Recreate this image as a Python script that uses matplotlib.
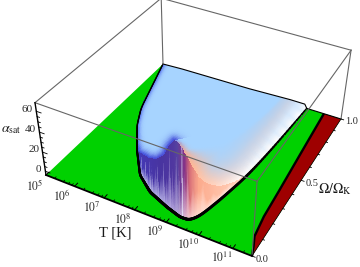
import numpy as np
import matplotlib
matplotlib.use("Agg")
import matplotlib.pyplot as plt
from matplotlib.collections import LineCollection
from matplotlib.patches import Polygon

plt.rcParams['font.family'] = ['Liberation Serif', 'DejaVu Serif']
plt.rcParams['mathtext.fontset'] = 'stix'

# --- data ---
T_MIN, T_MAX = 5.0, 11.55
Z_MIN, Z_MAX = -4.0, 68.0
x_ticks = [5, 6, 7, 8, 9, 10, 11]
y_ticks = [0.0, 0.5, 1.0]
z_ticks = [0, 20, 40, 60]

# lower stability boundary of the unstable region
bound_logT = [5.0, 5.42, 5.69, 6.05, 6.69, 7.37, 8.0, 8.72, 9.23, 9.50, 9.68, 9.87, 10.11, 10.24, 10.31, 10.38]
bound_omega = [1.0, 0.765, 0.614, 0.490, 0.334, 0.195, 0.123, 0.078, 0.053, 0.056, 0.097, 0.221, 0.421, 0.643, 0.817, 1.0]

# saturation height at the boundary
wall_logT = [5.0, 5.4, 6.05, 6.69, 7.37, 7.8, 8.0, 8.35, 8.65, 8.87, 9.05, 9.2, 9.3, 9.47, 9.6, 9.73, 9.87, 10.0, 10.11, 10.38]
wall_z = [-4, -3, -2, 3, 20, 28, 31, 37, 47, 60, 68, 68, 65, 56, 42, 25, 10, 1, -4, -4]

# height along the Omega = 1 edge
back_logT = [5.0, 5.65, 8.2, 9.7, 10.3, 10.38]
back_z = [-4, -3, -2, 0, 0, -4]

# second boundary (green / dark red)
red_logT = [11.55, 11.44, 11.31, 11.22, 11.17, 11.08, 10.97]
red_omega = [0.0, 0.05, 0.10, 0.22, 0.39, 0.66, 1.0]

# --- view ---
A, B, C = 179.42, 151.23, 46.0
D, E, F = 54.0, -97.56, 175.0
G, H = -0.10546, 0.21003
I, J, K = -13.45, -79.5, -0.07


def project(logT, omega, z=Z_MIN):
    u = (np.asarray(logT, float) - T_MIN) / (T_MAX - T_MIN)
    v = np.asarray(omega, float)
    w = (np.asarray(z, float) - Z_MIN) / (Z_MAX - Z_MIN)
    den = G * u + H * v + K * w + 1
    return (A * u + B * v + I * w + C) / den, (D * u + E * v + J * w + F) / den


def soften(y, width):
    n = int(width)
    kern = np.hanning(2 * n + 1)
    kern /= kern.sum()
    pad = np.r_[2 * y[0] - y[n:0:-1], y, 2 * y[-1] - y[-2:-n - 2:-1]]
    return np.convolve(pad, kern, mode='valid')


fig = plt.figure(figsize=(3.6, 2.67), dpi=100)
ax = fig.add_axes([0, 0, 1, 1])
ax.set_xlim(0, 360)
ax.set_ylim(267, 0)
ax.axis('off')

# floor
cx, cy = project([T_MIN, T_MAX, T_MAX, T_MIN], [0, 0, 1, 1])
ax.add_patch(Polygon(np.c_[cx, cy], closed=True, fc=(0, 0.82, 0), ec='none', zorder=1))
rx, ry = project(red_logT + [T_MAX], red_omega + [1.0])
ax.add_patch(Polygon(np.c_[rx, ry], closed=True, fc=(0.62, 0, 0), ec='none', zorder=1.5))
ax.plot(*project(red_logT, red_omega), color='k', lw=1.7, zorder=2, solid_capstyle='butt')

# mesh columns
Nc, Mr = 520, 170
Tc = np.linspace(T_MIN, bound_logT[-1], Nc)
om_low = soften(np.interp(Tc, bound_logT, bound_omega), 14)
z_low = soften(np.interp(Tc, wall_logT, wall_z), 4)
z_bk = np.interp(Tc, back_logT, back_z)
t = np.linspace(0, 1, Mr)[:, None]  # 0 = back edge, 1 = wall top
Om = 1 - t * (1 - om_low[None, :])
Zs = z_bk[None, :] + (z_low - z_bk)[None, :] * t ** 1.5
Xs, Ys = project(Tc[None, :] * np.ones_like(t), Om, Zs)

# surface colouring
base = np.array([167, 212, 255]) / 255
rim_T = [5.0, 6.5, 7.5, 8.3, 8.8, 9.1, 9.35, 9.55, 9.8, 10.05, 10.38]
rim_rgb = np.array([(70, 95, 235), (70, 90, 230), (65, 80, 220), (70, 75, 215), (80, 85, 215), (130, 140, 225),
                    (240, 170, 150), (255, 185, 150), (255, 210, 190), (255, 250, 248), (255, 255, 255)]) / 255
rim_w = [2.5, 3.0, 4.5, 5, 3.5, 2.0, 4, 16, 18, 15, 10]
Xq = 0.25 * (Xs[:-1, :-1] + Xs[1:, :-1] + Xs[:-1, 1:] + Xs[1:, 1:])
Yq = 0.25 * (Ys[:-1, :-1] + Ys[1:, :-1] + Ys[:-1, 1:] + Ys[1:, 1:])
ex, ey = Xs[-1, ::3].astype(np.float32), Ys[-1, ::3].astype(np.float32)
dist = np.min(np.hypot(Xq[..., None].astype(np.float32) - ex, Yq[..., None].astype(np.float32) - ey), axis=-1)
Tq = 0.5 * (Tc[:-1] + Tc[1:])
rim_col = np.stack([np.interp(Tq, rim_T, rim_rgb[:, i]) for i in range(3)], axis=-1)
w_col = np.interp(Tq, rim_T, rim_w)
mix = np.exp(-(dist / w_col[None, :]) ** 1.5)[..., None]
Cs = base * (1 - mix) + rim_col[None, :, :] * mix
ax.pcolormesh(Xs, Ys, Cs, shading='flat', zorder=3, rasterized=True)

# wall
wall_T = [5.0, 7.0, 7.8, 8.5, 9.0, 9.15, 9.38, 9.5, 9.65, 9.9, 10.1]
wall_top = np.array([(55, 65, 205), (60, 60, 190), (70, 55, 175), (72, 52, 160), (80, 55, 160), (85, 65, 160),
                     (135, 50, 135), (215, 110, 120), (252, 170, 140), (255, 195, 170), (255, 215, 200)]) / 255
wall_bot = np.array([(205, 210, 245), (205, 205, 242), (198, 198, 238), (185, 180, 232), (180, 165, 220), (185, 170, 218),
                     (225, 185, 210), (248, 205, 208), (255, 220, 208), (255, 238, 232), (255, 248, 244)]) / 255
h = np.linspace(0, 1, 50)[:, None]  # 0 = floor, 1 = top
Zw = Z_MIN + (z_low - Z_MIN)[None, :] * h
Xw, Yw = project(Tc[None, :] * np.ones_like(h), om_low[None, :] * np.ones_like(h), Zw)
top_c = np.stack([np.interp(Tq, wall_T, wall_top[:, i]) for i in range(3)], axis=-1)
bot_c = np.stack([np.interp(Tq, wall_T, wall_bot[:, i]) for i in range(3)], axis=-1)
streak = (0.4 * np.sin(2 * np.pi * Tq * 3.7) + 0.35 * np.sin(2 * np.pi * Tq * 8.3 + 2.0)
          + 0.25 * np.sin(2 * np.pi * Tq * 11.9 + 1.0))
hq = 0.5 * (h[:-1] + h[1:])
m = np.clip(hq * (1.7 + 1.0 * streak[None, :]) + 0.02, 0, 1)[..., None]
Cw = bot_c[None, :, :] * (1 - m) + top_c[None, :, :] * m
pale = np.exp(-((Tq - 9.30) / 0.018) ** 2)[None, :, None] * (1 - 0.4 * hq[..., None])
Cw = Cw * (1 - pale) + np.array([0.88, 0.86, 0.95]) * pale
ax.pcolormesh(Xw, Yw, Cw, shading='flat', zorder=4, rasterized=True)

# black outlines
lx, ly = project(Tc, om_low)
seg = np.stack([np.c_[lx[:-1], ly[:-1]], np.c_[lx[1:], ly[1:]]], axis=1)
lw_seg = np.interp(Tq, [5.0, 6.2, 7.3, 8.0, 9.8, 10.1, 10.38], [0.9, 1.0, 1.6, 2.1, 2.1, 1.9, 1.1])
ax.add_collection(LineCollection(seg, colors='k', linewidths=lw_seg, zorder=5, capstyle='round'))
ax.plot(*project(Tc, np.ones_like(Tc), z_bk), color='k', lw=0.8, zorder=5)
ax.plot(*project([bound_logT[-1], T_MAX], [1, 1]), color='k', lw=0.8, zorder=5)

# box
gray = '#666666'
for (a, b, c), (d, e, f) in [((T_MIN, 0, Z_MAX), (T_MIN, 1, Z_MAX)), ((T_MIN, 1, Z_MAX), (T_MAX, 1, Z_MAX)),
                             ((T_MAX, 1, Z_MAX), (T_MAX, 0, Z_MAX)), ((T_MAX, 0, Z_MAX), (T_MIN, 0, Z_MAX)),
                             ((T_MIN, 1, Z_MAX), (T_MIN, 1, Z_MIN)), ((T_MAX, 1, Z_MAX), (T_MAX, 1, Z_MIN)),
                             ((T_MAX, 0, Z_MAX), (T_MAX, 0, Z_MIN))]:
    ax.plot(*project([a, d], [b, e], [c, f]), color=gray, lw=0.8, zorder=6)

# axes and ticks
ax.plot(*project([T_MIN, T_MAX], [0, 0]), color='k', lw=1.3, zorder=7)
ax.plot(*project([T_MAX, T_MAX], [0, 1]), color='k', lw=0.5, zorder=7)
ax.plot(*project([T_MIN, T_MIN], [0, 0], [Z_MIN, Z_MAX]), color='k', lw=1.0, zorder=7)
for v in x_ticks:
    ax.plot(*project([v, v], [0, 0.022]), color='k', lw=0.7, zorder=7)
    for mm in range(2, 10, 2):
        tv = v + np.log10(mm)
        if tv < T_MAX:
            ax.plot(*project([tv, tv], [0, 0.011]), color='k', lw=0.5, zorder=7)
for v in np.arange(0, 1.01, 0.1):
    L = 0.09 if abs(v * 10 % 5) < 1e-6 else 0.05
    ax.plot(*project([T_MAX, T_MAX + L], [v, v]), color='k', lw=0.6, zorder=7)
for v in np.arange(0, 61, 5):
    L = 0.16 if v % 20 == 0 else 0.08
    ax.plot(*project([T_MIN, T_MIN + L], [0, 0], [v, v]), color='k', lw=0.6, zorder=7)

txt = '#2a2a2a'
for v, (tx, ty) in zip(x_ticks, [(35, 186), (62, 196), (92, 208), (123, 220), (155, 232), (188, 245), (222, 258)]):
    ax.text(tx, ty, rf'$10^{{{v}}}$', fontsize=8.5, color=txt, ha='center', va='center', zorder=8)
for v, (tx, ty) in zip(y_ticks, [(262, 259), (312, 183), (352, 122)]):
    ax.text(tx, ty, f'{v:.1f}', fontsize=7.5, color=txt, ha='center', va='center', zorder=8)
for v, (tx, ty) in zip(z_ticks, [(38, 170), (34, 150), (30, 130), (27, 109)]):
    ax.text(tx, ty, f'{v}', fontsize=8, color=txt, ha='center', va='center', zorder=8)
ax.text(115, 233, 'T [K]', fontsize=10.5, color='#1a1a1a', ha='center', va='center', zorder=8)
ax.text(335, 189, r'$\Omega/\Omega_{\mathrm{K}}$', fontsize=10, color='#1a1a1a', ha='center', va='center', zorder=8)
ax.text(11, 129, r'$\alpha_{\mathrm{sat}}$', fontsize=10, color='#1a1a1a', ha='center', va='center', zorder=8)

fig.savefig('out.png', dpi=100)
